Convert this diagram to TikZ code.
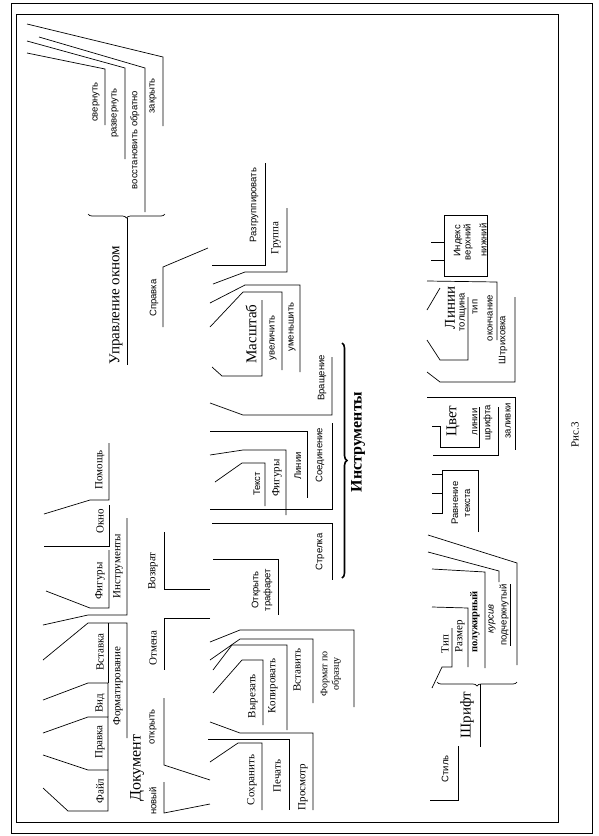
\documentclass[tikz,border=0pt]{standalone}
\usepackage{fontspec}
\setmainfont{Liberation Serif}
\newfontfamily\ssf{Liberation Sans}
\usetikzlibrary{decorations.pathreplacing}
\begin{document}
\begin{tikzpicture}[x=1pt,y=-1pt,line width=0.7pt,
  t/.style={rotate=90,inner sep=0pt,font=\fontsize{11}{12}\selectfont},
  ts/.style={rotate=90,inner sep=0pt,font=\ssf\fontsize{9.5}{10}\selectfont},
  tb/.style={rotate=90,inner sep=0pt,font=\fontsize{15}{16}\selectfont},
  tc/.style={rotate=90,inner sep=0pt,align=center,font=\fontsize{10}{11.5}\selectfont},
  tcs/.style={rotate=90,inner sep=0pt,align=center,font=\ssf\fontsize{9.5}{12}\selectfont},
  br/.style={decorate,decoration={brace,amplitude=4pt}}]
\useasboundingbox (0,0) rectangle (598,836);
% frames
\draw (11,3) rectangle (592,833);
\draw (16,14) rectangle (558,822);
% window control
\draw (27,24)--(163,57)--(163,126);
\draw (39,37)--(145,68)--(145,212);
\draw (27,41)--(125,68)--(125,159);
\draw (27,53)--(105,69)--(105,125);
\node[ts] (zak) at (153,96) {закрыть};
\node[ts] (vos) at (135,140) {восстановить обратно};
\node[ts] (raz) at (115,113) {развернуть};
\node[ts] (sve) at (96,102) {свернуть};
\draw[br] (165,214)--(88,214);
\draw (127,218)--(127,365);
\node[tb] (upr) at (116,305) {Управление окном};
% spravka
\draw (208,248)--(163,267)--(163,327);
\node[ts] (spr) at (154,298) {Справка};
% gruppa
\draw (212,265)--(265,265)--(265,163);
\node[ts] (razg) at (254,205) {Разгруппировать};
\draw (213,284)--(245,272)--(287,272)--(287,208);
\node[t] (gru) at (276,238) {Группа};
\draw (210,303)--(245,285)--(300,285)--(300,372);
\node[ts] (umen) at (292,327) {уменьшить};
\draw (210,327)--(243,292)--(282,292)--(282,370);
\node[ts] (uvel) at (273,338) {увеличить};
\draw (212,367)--(222,376)--(262,376)--(262,300);
\node[tb] (mas) at (251,334) {Масштаб};
\draw (210,403)--(243,415)--(332,415)--(332,357);
\node[ts] (vra) at (322,378) {Вращение};
\draw (210,509)--(332,509)--(332,423);
\node[ts] (soe) at (320,455) {Соединение};
\draw (210,431)--(307,431)--(307,498);
\node[ts] (lin) at (298,466) {Линии};
\draw (210,455)--(243,450)--(286,450)--(286,515);
\node[t] (fig2) at (277,478) {Фигуры};
\draw (215,482)--(242,463)--(265,463)--(265,506);
\node[ts] (tek) at (257,484) {Текст};
\draw (212,523)--(332,523)--(332,580);
\node[ts] (str) at (320,552) {Стрелка};
\draw (213,559)--(278,559)--(278,615);
\node[tcs] (otr) at (262,590) {Открыть\\трафарет};
\draw[br,line width=1.6pt,decoration={amplitude=5pt}] (342,343)--(342,578);
\node[tb,font=\bfseries\fontsize{16}{17}\selectfont] (ins) at (358,442) {Инструменты};
% vozvrat / otmena
\draw (164,532)--(164,589)--(210,589);
\node[t] (voz) at (153,571) {Возврат};
\draw (210,618)--(164,618)--(164,670);
\node[t] (otm) at (153,648) {Отмена};
\draw (210,642)--(240,630)--(354,630)--(354,707);
\node[tc] (fmt) at (331,674) {Формат по\\образцу};
\draw (210,660)--(240,639)--(313,639)--(313,703);
\node[t] (vst2) at (297,670) {Вставить};
\draw (213,670)--(232,645)--(287,645)--(287,730);
\node[t] (kop) at (273,686) {Копировать};
\draw (213,693)--(242,660)--(263,660)--(263,725);
\node[t] (vyr) at (253,696) {Вырезать};
\draw (210,722)--(240,733)--(313,733)--(313,810);
\node[t] (pro) at (303,787) {Просмотр};
\draw (208,739)--(289,739)--(289,810);
\node[t] (pech) at (277,776) {Печать};
\draw (210,762)--(238,743)--(262,743)--(262,810);
\node[t] (soh) at (252,780) {Сохранить};
% document
\node[tb,font=\fontsize{16}{17}\selectfont] (dok) at (137,768) {Документ};
\draw (164,698)--(164,765)--(210,780);
\node[ts] (otk) at (153,727) {открыть};
\draw (210,804)--(164,813)--(164,782);
\node[ts] (nov) at (153,801) {новый};
% menu bar
\draw (44,514)--(90,500)--(109,500)--(109,443);
\node[t] (pom) at (100,470) {Помощь};
\draw (44,546)--(109,546)--(109,505);
\node[t] (okn) at (100,521) {Окно};
\draw (46,591)--(90,608)--(109,608)--(109,550);
\node[t] (fig) at (100,581) {Фигуры};
\draw (43,625)--(88,615)--(127,615)--(127,518);
\node[t] (inst) at (118,566) {Инструменты};
\draw (43,660)--(88,623)--(127,623)--(127,738);
\draw (108,623)--(108,683);
\node[t] (vsta) at (100,652) {Вставка};
\node[t] (form) at (118,686) {Форматирование};
\draw (43,700)--(88,683)--(108,683)--(108,717);
\node[t] (vid) at (100,703) {Вид};
\draw (43,733)--(88,717)--(108,717)--(108,770);
\node[t] (prav) at (100,742) {Правка};
\draw (43,755)--(88,770)--(108,770)--(108,811)--(68,811)--(43,788);
\node[t] (fail) at (100,791) {Файл};
% font group
\draw (458,746)--(458,800)--(430,800);
\node[ts] (stil) at (445,769) {Стиль};
\draw[br] (517,682)--(437,682);
\draw (480,684)--(480,747);
\node[tb] (shr) at (467,715) {Шрифт};
\draw (432,688)--(442,667)--(452,667)--(452,628);
\node[t] (tip) at (445,644) {Тип};
\draw (432,607)--(468,608)--(468,667);
\node[t] (razm) at (460,636) {Размер};
\draw (432,569)--(485,572)--(485,668);
\node[t,font=\bfseries\fontsize{10.5}{11}\selectfont] (pol) at (475,622) {полужирный};
\draw (428,552)--(499,571)--(499,582);
\node[ts,font=\ssf\itshape\fontsize{9.5}{10}\selectfont] (kur) at (492,619) {курсив};
\draw (428,535)--(517,563)--(517,665);
\node[ts] (pod) at (505,615) {\underline{подчеркнутый}};
% ravnenie
\draw (478,532)--(478,470)--(442,470)--(442,513)--(432,513);
\draw (432,474)--(442,474);
\draw (432,493)--(442,493);
\node[tcs] (rav) at (461,503) {Равнение\\текста};
% cvet
\draw (427,397)--(515,397)--(515,450);
\draw (432,426)--(440,426)--(440,447)--(479,447)--(479,407);
\draw (433,455)--(498,455)--(498,407);
\node[tb] (cvet) at (453,421) {Цвет};
\node[ts] (cl) at (475,422) {линии};
\node[ts] (csh) at (488,423) {шрифта};
\node[ts] (cz) at (508,421) {заливки};
% linii
\draw (427,372)--(440,382)--(515,382)--(515,297);
\draw (427,281)--(497,282)--(497,340);
\draw (427,310)--(440,288);
\draw (427,340)--(440,360)--(468,360)--(468,297);
\node[tb] (lini) at (450,308) {Линии};
\node[ts] (tol) at (463,312) {толщина};
\node[ts] (ltip) at (475,307) {тип};
\node[ts] (oko) at (490,318) {окончание};
\node[ts] (shtr) at (503,340) {Штриховка};
% indeks
\draw (444,215)--(487,215)--(487,276)--(444,276)--(444,215);
\draw (431,242)--(444,242);
\draw (431,260)--(444,260);
\node[ts] (ind) at (458,241) {Индекс};
\node[ts] (ver) at (468,242) {верхний};
\node[ts] (niz) at (483,240) {нижний};
\node[t] (ris) at (575,435) {Рис.3};
\end{tikzpicture}
\end{document}
